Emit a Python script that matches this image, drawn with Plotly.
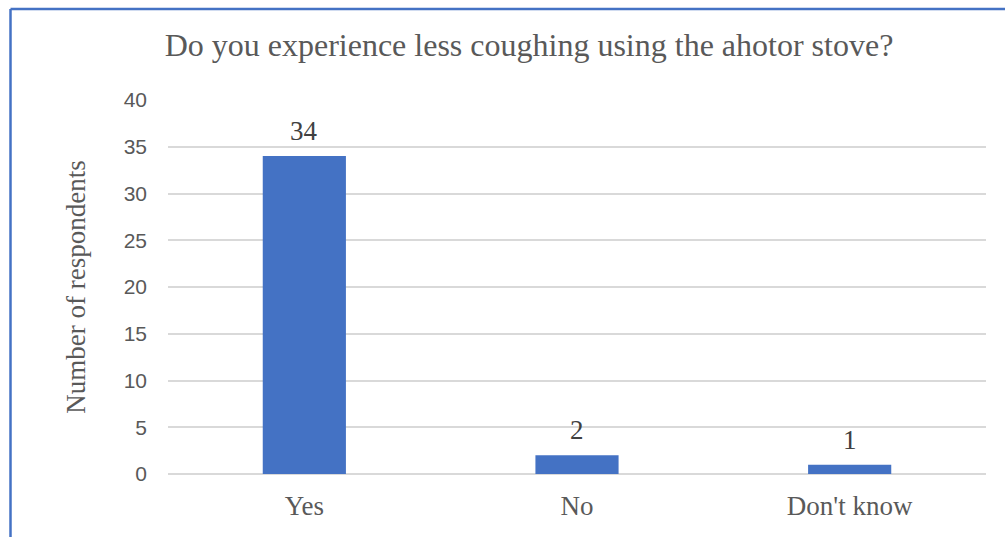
import plotly.graph_objects as go

categories = ["Yes", "No", "Don't know"]
values = [34, 2, 1]
y_ticks = [0, 5, 10, 15, 20, 25, 30, 35, 40]

W, H = 1005, 537
L, R, T, B = 168, 19, 100, 63
pw, ph = W - L - R, H - T - B

def px(x):
    return (x - L) / pw

def py(y):
    return (H - B - y) / ph

serif = "Liberation Serif"
grey = "#595959"

fig = go.Figure(go.Bar(
    x=categories, y=values,
    marker=dict(color="#4472C4", line=dict(width=0)),
    cliponaxis=False,
))

for c, v in zip(categories, values):
    fig.add_annotation(x=c, y=v, text=str(v), showarrow=False,
                       xref="x", yref="y", yanchor="middle", yshift=25,
                       font=dict(family=serif, size=27, color="#404040"))

fig.update_layout(
    width=W, height=H,
    margin=dict(l=L, r=R, t=T, b=B),
    paper_bgcolor="white", plot_bgcolor="white",
    bargap=0.695,
    showlegend=False,
    title=dict(text="Do you experience less coughing using the ahotor stove?",
               font=dict(family=serif, size=32, color=grey),
               x=(165 + 893) / 2 / W, xanchor="center", y=1 - 45 / H, yanchor="middle"),
    xaxis=dict(showgrid=False, showline=False, ticks="", ticklabelstandoff=13,
               tickfont=dict(family=serif, size=27, color=grey)),
    yaxis=dict(range=[0, 40], tickvals=y_ticks, showgrid=True, gridcolor="#D9D9D9",
               gridwidth=2, zeroline=True, zerolinecolor="#D9D9D9", zerolinewidth=2,
               showline=False, ticks="", ticklabelstandoff=20,
               tickfont=dict(family="Liberation Sans", size=21, color=grey),
               title=dict(text="Number of respondents", standoff=30,
                          font=dict(family=serif, size=27, color=grey))),
    shapes=[
        dict(type="line", xref="paper", yref="paper", x0=px(10.5), x1=px(10.5),
             y0=py(9), y1=py(545), line=dict(color="#4472C4", width=2.5)),
        dict(type="line", xref="paper", yref="paper", x0=px(10.5), x1=px(1010),
             y0=py(9), y1=py(9), line=dict(color="#4472C4", width=2.5)),
    ],
)
fig.write_html("out.html", config={"displayModeBar": False},
               post_script="document.body.style.margin='0';document.body.style.overflow='hidden';")
